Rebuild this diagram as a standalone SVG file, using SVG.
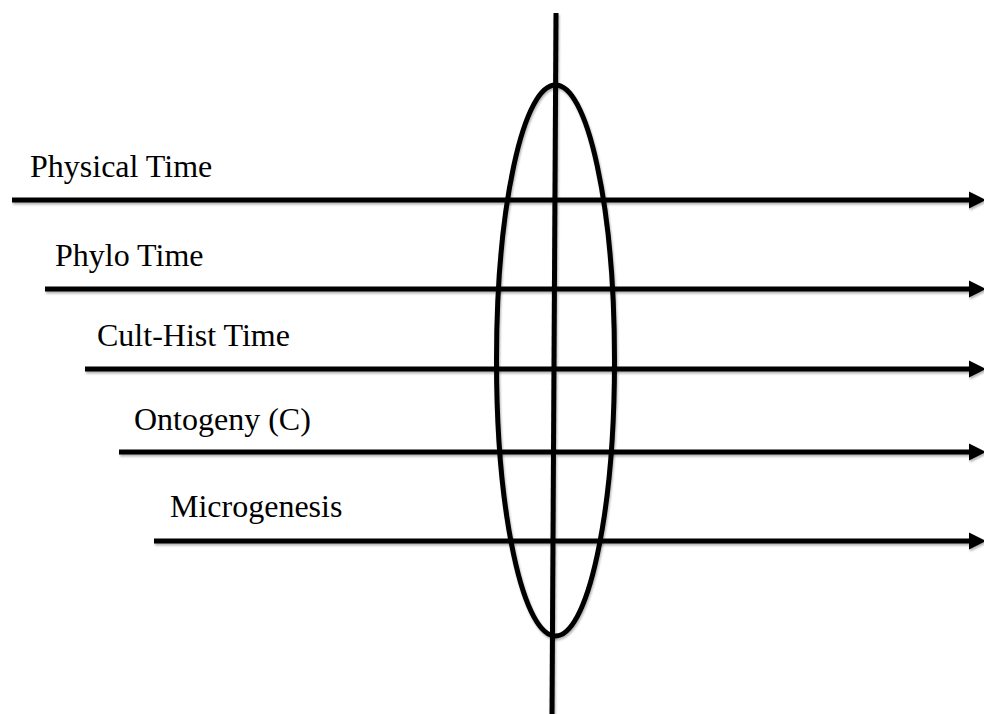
<svg xmlns="http://www.w3.org/2000/svg" width="984" height="714" viewBox="0 0 984 714">
<style>
.ln{stroke:#000;stroke-width:5;fill:none}
.lbl{font-family:"Liberation Serif","Times New Roman",serif;font-size:32px;fill:#000}
</style>
<defs>
<filter id="sh" x="-5%" y="-5%" width="110%" height="120%">
<feDropShadow dx="1" dy="2" stdDeviation="1.2" flood-color="#000" flood-opacity="0.3"/>
</filter>
<marker id="ah" markerUnits="userSpaceOnUse" markerWidth="17" markerHeight="20" refX="2" refY="10" orient="auto">
<path d="M0,1.5 L17,10 L0,18.5 Z" fill="#000"/>
</marker>
</defs>
<g id="connectors" filter="url(#sh)">
<line class="ln" x1="12" y1="200" x2="971" y2="200" marker-end="url(#ah)"/>
<line class="ln" x1="45" y1="289" x2="971" y2="289" marker-end="url(#ah)"/>
<line class="ln" x1="85" y1="369" x2="971" y2="369" marker-end="url(#ah)"/>
<line class="ln" x1="119" y1="452" x2="971" y2="452" marker-end="url(#ah)"/>
<line class="ln" x1="154" y1="541" x2="971" y2="541" marker-end="url(#ah)"/>
<line class="ln" x1="556" y1="13" x2="552" y2="714"/>
</g>
<g id="ellipse" filter="url(#sh)">
<ellipse class="ln" cx="555.5" cy="360.5" rx="59" ry="275.5"/>
</g>
<g id="physical"><text class="lbl" x="30" y="177">Physical Time</text></g>
<g id="phylo"><text class="lbl" x="55" y="266">Phylo Time</text></g>
<g id="culthist"><text class="lbl" x="97" y="346">Cult-Hist Time</text></g>
<g id="ontogeny"><text class="lbl" x="134" y="430">Ontogeny (C)</text></g>
<g id="microgenesis"><text class="lbl" x="170" y="517">Microgenesis</text></g>
</svg>
